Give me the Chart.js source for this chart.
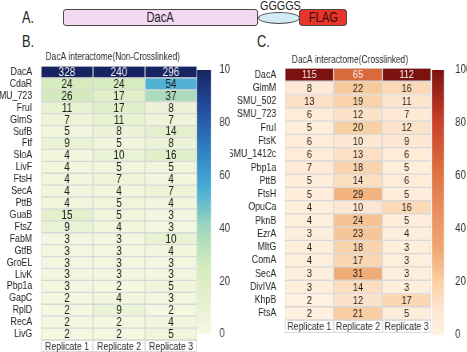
<!DOCTYPE html>
<html>
<head>
<meta charset="utf-8">
<script src="https://cdn.jsdelivr.net/npm/chart.js@4.4.1/dist/chart.umd.min.js"></script>
<style>
  body { margin: 0; background: #fff; width: 467px; height: 352px; overflow: hidden; position: relative;
         font-family: "Liberation Sans", Arial, sans-serif; color: #222; }
  .abs { position: absolute; white-space: nowrap; transform: scaleX(0.8); transform-origin: 0 0; }
  canvas { position: absolute; top: 0; transform: scaleX(0.8); transform-origin: 0 0; }
  .box { position: absolute; box-sizing: border-box; border: 1px solid #4a4a4a; text-align: center; }
  .box span { display: inline-block; transform: scaleX(0.8); }
</style>
</head>
<body>

<!-- A. construct diagram -->
<div class="abs" style="left:22px;top:9px;font-size:16px;">A.</div>
<div class="box" style="left:63px;top:9px;width:195px;height:17px;background:#f3d9f1;border-radius:3px;font-size:14px;line-height:15px;"><span>DacA</span></div>
<div class="box" style="left:258px;top:12px;width:42px;height:12px;background:#d2ebf6;border-radius:50%;"></div>
<div class="abs" style="left:260px;top:-2px;font-size:13.5px;">GGGGS</div>
<div class="box" style="left:299px;top:9px;width:48px;height:17px;background:#e8342b;border-radius:3px;font-size:14px;line-height:15px;color:#3a0d0a;"><span>FLAG</span></div>
<div class="abs" style="left:22px;top:33px;height:14px;overflow:hidden;font-size:16px;">B.</div>
<div class="abs" style="left:257px;top:33px;height:14px;overflow:hidden;font-size:16px;">C.</div>

<canvas id="heat-b" width="250" height="352" style="left:0px"></canvas>
<canvas id="bar-b" width="50" height="352" style="left:190px"></canvas>
<canvas id="heat-c" width="256" height="352" style="left:230px"></canvas>
<canvas id="bar-c" width="53" height="352" style="left:425px"></canvas>

<script>
// data

var replicates = ["Replicate 1", "Replicate 2", "Replicate 3"];
var colorTicks = [0, 20, 40, 60, 80, 100];

var nonCrossGenes = ["DacA", "CdaR", "SMU_723", "FruI", "GlmS", "SufB", "Ftf", "SloA", "LivF", "FtsH", "SecA", "PttB",
  "GuaB", "FtsZ", "FabM", "GtfB", "GroEL", "LivK", "Pbp1a", "GapC", "RplD", "RecA", "LivG"];
var nonCrossRep1 = [328, 24, 26, 11, 7, 5, 9, 4, 4, 4, 4, 4, 15, 9, 3, 3, 3, 3, 3, 2, 2, 2, 2];
var nonCrossRep2 = [240, 24, 17, 17, 11, 8, 5, 10, 5, 7, 4, 5, 5, 4, 3, 3, 3, 3, 2, 4, 9, 2, 2];
var nonCrossRep3 = [296, 54, 37, 8, 7, 14, 8, 16, 5, 4, 7, 4, 3, 3, 10, 4, 3, 3, 5, 3, 2, 4, 5];

var crossGenes = ["DacA", "GlmM", "SMU_502", "SMU_723", "FruI", "FtsK", "SMU_1412c", "Pbp1a", "PttB", "FtsH", "OpuCa",
  "PknB", "EzrA", "MltG", "ComA", "SecA", "DivIVA", "KhpB", "FtsA"];
var crossRep1 = [115, 8, 13, 6, 5, 6, 6, 7, 5, 5, 4, 4, 3, 4, 4, 3, 3, 2, 2];
var crossRep2 = [65, 22, 19, 12, 20, 10, 13, 18, 14, 29, 10, 24, 23, 18, 17, 31, 14, 12, 21];
var crossRep3 = [112, 16, 11, 7, 12, 9, 6, 5, 6, 5, 16, 5, 4, 3, 3, 3, 3, 17, 5];

// colour maps (value -> colour)
var blueStops = [[0, "#f6f9e4"], [10, "#e9f2d3"], [25, "#d6ecbc"], [40, "#a3d7bd"], [55, "#4aaed6"],
  [70, "#2f7fc0"], [85, "#244f9e"], [100, "#172462"]];
var redStops = [[0, "#fff3e2"], [10, "#fde6d2"], [20, "#f9d0a4"], [32, "#efa973"], [45, "#eb9262"],
  [65, "#d96a3c"], [80, "#cb4129"], [100, "#7c1210"]];

var FONT = "'Liberation Sans', Arial, sans-serif";

function hexRgb(h) {
  return [parseInt(h.substr(1, 2), 16), parseInt(h.substr(3, 2), 16), parseInt(h.substr(5, 2), 16)];
}

function colorFrom(stops) {
  return function (v) {
    v = Math.max(0, Math.min(100, v));
    for (var i = 1; i < stops.length; i++) {
      if (v <= stops[i][0]) {
        var t = (v - stops[i - 1][0]) / (stops[i][0] - stops[i - 1][0]);
        var a = hexRgb(stops[i - 1][1]), b = hexRgb(stops[i][1]);
        return "rgb(" + a.map(function (c, k) { return Math.round(c + (b[k] - c) * t); }).join(",") + ")";
      }
    }
    return stops[stops.length - 1][1];
  };
}

// numbers in cells, replicate labels under columns, title above
var heatText = {
  id: "heatText",
  afterDraw: function (chart) {
    var o = chart.options.plugins.heatText;
    var ctx = chart.ctx, area = chart.chartArea, xs = chart.scales.x;
    ctx.save();
    ctx.textAlign = "center";
    ctx.textBaseline = "middle";
    ctx.font = o.numSize + "px " + FONT;
    chart.data.datasets.forEach(function (ds, di) {
      chart.getDatasetMeta(di).data.forEach(function (el, i) {
        var v = ds.values[i];
        var p = el.getCenterPoint();
        ctx.fillStyle = v > 60 ? "#f6f1ee" : "#1e1e1e";
        ctx.fillText(String(v), p.x, p.y + 0.5);
      });
    });
    // replicate label boxes
    ctx.font = "11px " + FONT;
    ctx.strokeStyle = "#dcdcdc";
    ctx.lineWidth = 1;
    replicates.forEach(function (r, k) {
      var x0 = xs.getPixelForValue(k), x1 = xs.getPixelForValue(k + 1);
      ctx.strokeRect(x0 + 0.5, area.bottom + 0.5, x1 - x0 - 1, o.labelH);
      ctx.fillStyle = "#2a2a2a";
      ctx.fillText(r, (x0 + x1) / 2, area.bottom + o.labelH / 2 + 1);
    });
    ctx.font = "10.5px " + FONT;
    ctx.fillStyle = "#2a2a2a";
    ctx.fillText(o.title, o.titleX, o.titleY);
    ctx.restore();
  }
};

function heatmap(id, genes, reps, colorOf, o) {
  new Chart(document.getElementById(id), {
    type: "bar",
    data: {
      labels: genes,
      datasets: reps.map(function (vals, r) {
        return {
          label: replicates[r],
          data: vals.map(function () { return 1; }),
          values: vals,
          backgroundColor: vals.map(colorOf),
          borderColor: "#d8d8d8",
          borderWidth: 1,
          borderSkipped: false,
          barPercentage: 1,
          categoryPercentage: 1
        };
      })
    },
    options: {
      indexAxis: "y",
      responsive: false,
      animation: false,
      layout: { padding: o.padding },
      plugins: {
        legend: { display: false },
        tooltip: { enabled: false },
        heatText: o
      },
      scales: {
        x: { stacked: true, min: 0, max: 3, display: false },
        y: {
          stacked: true,
          grid: { display: false },
          border: { display: false },
          ticks: { color: "#222", padding: 3, autoSkip: false, font: { family: FONT, size: 11 } },
          afterFit: function (axis) { axis.width = o.axisW; }
        }
      }
    },
    plugins: [heatText]
  });
}

function colorbar(id, stops, o) {
  new Chart(document.getElementById(id), {
    type: "bar",
    data: {
      labels: [""],
      datasets: [{
        data: [100],
        borderWidth: 0,
        barPercentage: 1,
        categoryPercentage: 1,
        backgroundColor: function (c) {
          var a = c.chart.chartArea;
          if (!a) return null;
          var g = c.chart.ctx.createLinearGradient(0, a.bottom, 0, a.top);
          stops.forEach(function (s) { g.addColorStop(s[0] / 100, s[1]); });
          return g;
        }
      }]
    },
    options: {
      responsive: false,
      animation: false,
      layout: { padding: o.padding },
      plugins: { legend: { display: false }, tooltip: { enabled: false } },
      scales: {
        x: { display: false },
        y: {
          position: "right",
          min: 0,
          max: 100,
          grid: { display: false },
          border: { display: false },
          afterBuildTicks: function (axis) { axis.ticks = colorTicks.map(function (v) { return { value: v }; }); },
          ticks: { color: "#333", padding: o.tickPad, font: { family: FONT, size: 12 } },
          afterFit: function (axis) { axis.width = o.axisW; }
        }
      }
    }
  });
}

// canvases are squeezed to 0.8 width, so x sizes below are in unsqueezed pixels
heatmap("heat-b", nonCrossGenes, [nonCrossRep1, nonCrossRep2, nonCrossRep3], colorFrom(blueStops), {
  padding: { top: 66, bottom: 12, left: 0, right: 3.75 },
  axisW: 51.25, numSize: 12.5, labelH: 11,
  title: "DacA interactome(Non-Crosslinked)", titleX: 141, titleY: 57
});
colorbar("bar-b", blueStops, { padding: { top: 70, bottom: 18, left: 8.75, right: 0 }, axisW: 23.75, tickPad: 2.5 });

heatmap("heat-c", crossGenes, [crossRep1, crossRep2, crossRep3], colorFrom(redStops), {
  padding: { top: 68, bottom: 32, left: 0, right: 4.75 },
  axisW: 68.75, numSize: 11.5, labelH: 12,
  title: "DacA interactome(Crosslinked)", titleX: 150, titleY: 60
});
colorbar("bar-c", redStops, { padding: { top: 70, bottom: 17, left: 8.75, right: 0 }, axisW: 29.25, tickPad: 6 });
</script>
</body>
</html>
